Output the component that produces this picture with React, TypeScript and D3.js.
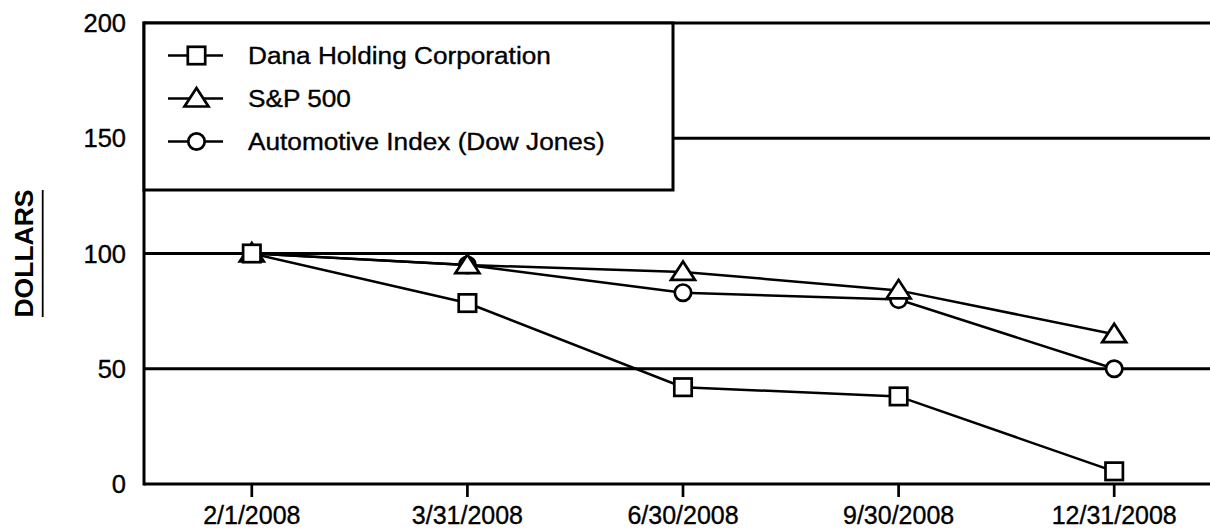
import React from "react";
import * as d3 from "d3";

const dates = ["2/1/2008", "3/31/2008", "6/30/2008", "9/30/2008", "12/31/2008"];
const dana = [100, 78.5, 42, 38, 5.5];
const sp500 = [100, 95, 92, 84, 65];
const auto = [100, 95, 83, 80, 50];
const yTicks = [0, 50, 100, 150, 200];
const seriesNames = ["Dana Holding Corporation", "S&P 500", "Automotive Index (Dow Jones)"];
const yTitle = "DOLLARS";

const W = 1210;
const H = 530;
const FONT = "'Liberation Sans', Arial, Helvetica, sans-serif";

type Shape = "square" | "triangle" | "circle";

function Marker({ shape, x, y }: { shape: Shape; x: number; y: number }) {
  const common = { fill: "#fff", stroke: "#000", strokeWidth: 2.7 };
  if (shape === "square") {
    return <rect x={x - 8.7} y={y - 8.7} width={17.4} height={17.4} {...common} />;
  }
  if (shape === "circle") {
    return <circle cx={x} cy={y} r={8.2} {...common} />;
  }
  const p = `M${x},${y - 10.5}L${x + 12},${y + 8}L${x - 12},${y + 8}Z`;
  return <path d={p} {...common} strokeLinejoin="miter" />;
}

export default function App() {
  const left = 144;
  const top = 23;
  const bottom = 484;
  const x = d3.scalePoint<string>().domain(dates).range([left, left + 5 * 215.6]).padding(0.5);
  const y = d3.scaleLinear().domain([0, 200]).range([bottom, top]);

  const line = d3
    .line<number>()
    .x((_, i) => x(dates[i]) as number)
    .y((d) => y(d));

  const series: { name: string; values: number[]; shape: Shape }[] = [
    { name: seriesNames[2], values: auto, shape: "circle" },
    { name: seriesNames[1], values: sp500, shape: "triangle" },
    { name: seriesNames[0], values: dana, shape: "square" },
  ];
  const legendOrder: { name: string; shape: Shape }[] = [
    { name: seriesNames[0], shape: "square" },
    { name: seriesNames[1], shape: "triangle" },
    { name: seriesNames[2], shape: "circle" },
  ];

  const textStroke = { stroke: "#000", strokeWidth: 0.35 };

  return (
    <svg
      width={W}
      height={H}
      style={{ position: "absolute", left: 0, top: 0, background: "#fff" }}
      fontFamily={FONT}
    >
      <rect x={0} y={0} width={W} height={H} fill="#fff" />
      {/* gridlines */}
      {yTicks
        .filter((t) => t > 0)
        .map((t) => (
          <line key={t} x1={left} x2={W} y1={y(t)} y2={y(t)} stroke="#000" strokeWidth={3} />
        ))}
      {/* axes */}
      <line x1={left} x2={left} y1={top - 1.5} y2={bottom + 1.5} stroke="#000" strokeWidth={3} />
      <line x1={left} x2={W} y1={bottom} y2={bottom} stroke="#000" strokeWidth={3} />
      {/* x ticks and labels */}
      {dates.map((d) => (
        <g key={d}>
          <line x1={x(d)} x2={x(d)} y1={bottom} y2={bottom + 13} stroke="#000" strokeWidth={2.7} />
          <text x={x(d)} y={524} textAnchor="middle" fontSize={25} fill="#000" {...textStroke}>
            {d}
          </text>
        </g>
      ))}
      {/* y labels */}
      {yTicks.map((t) => (
        <text key={t} x={126} y={y(t) + 9} textAnchor="end" fontSize={25.5} fill="#000" {...textStroke}>
          {t}
        </text>
      ))}
      {/* y title */}
      <text
        transform={`translate(33,253.5) rotate(-90)`}
        textAnchor="middle"
        fontSize={26.5}
        fontWeight="bold"
        fill="#000"
      >
        {yTitle}
      </text>
      <line x1={42.7} x2={42.7} y1={190} y2={317} stroke="#000" strokeWidth={1.8} />

      {/* legend */}
      <rect x={left} y={top} width={673 - left} height={190 - top} fill="#fff" stroke="#000" strokeWidth={3} />
      {legendOrder.map((s, i) => {
        const cy = 55.5 + i * 43;
        return (
          <g key={s.name}>
            <line x1={168} x2={223} y1={cy} y2={cy} stroke="#000" strokeWidth={2.7} />
            <Marker shape={s.shape} x={196.5} y={cy} />
            <text
              transform={`translate(248,${cy + 8}) scale(1.12,1)`}
              fontSize={23.4}
              fill="#000"
              {...textStroke}
            >
              {s.name}
            </text>
          </g>
        );
      })}

      {/* series lines */}
      {series.map((s) => (
        <path key={s.name} d={line(s.values) || ""} fill="none" stroke="#000" strokeWidth={2.5} />
      ))}
      {/* markers */}
      {series.map((s) => (
        <g key={s.name + "m"}>
          {s.values.map((v, i) => (
            <Marker key={i} shape={s.shape} x={x(dates[i]) as number} y={y(v)} />
          ))}
        </g>
      ))}
    </svg>
  );
}
